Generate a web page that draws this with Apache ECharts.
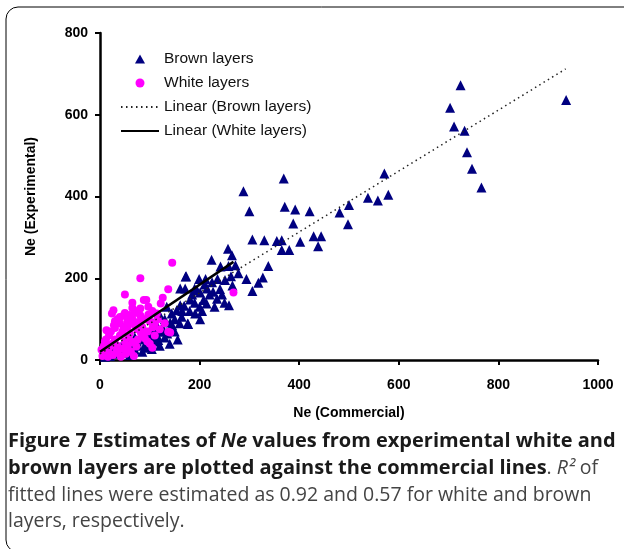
<!DOCTYPE html>
<html>
<head>
<meta charset="utf-8">
<script src="https://cdn.jsdelivr.net/npm/echarts@6/dist/echarts.min.js"></script>
<style>
  html, body { margin: 0; padding: 0; background: #fff; }
  #chart { width: 624px; height: 549px; }
</style>
</head>
<body>
<div id="chart"></div>
<script>
// Ne (Commercial), Ne (Experimental) pairs
var brownLayers = [
    [936, 636], [724, 672], [703, 617], [711, 571], [732, 561], [737, 508], [747, 468], [766, 422],
    [571, 456], [579, 404], [558, 390], [538, 397], [500, 379], [481, 361], [498, 332],
    [421, 364], [429, 303], [444, 303], [438, 278], [402, 289],
    [369, 444], [288, 413], [300, 364], [371, 375], [392, 368], [388, 334],
    [306, 295], [330, 293], [355, 291], [365, 293], [365, 269], [380, 269],
    [257, 272], [265, 256], [224, 245], [338, 230], [242, 229], [258, 230], [272, 232],
    [278, 212], [263, 205], [251, 196], [236, 198], [294, 198], [327, 202], [318, 189], [306, 169],
    [266, 182], [241, 174], [227, 167], [212, 198], [199, 198], [172, 204],
    [259, 134], [230, 130], [214, 138], [208, 147], [201, 165], [191, 114], [201, 100], [177, 88],
    [181, 148], [169, 133], [161, 175], [164, 106],
    [156, 50], [176, 89], [141, 92], [104, 27], [124, 69], [117, 49], [90, 37], [110, 94], [120, 110],
    [144, 114], [154, 122], [161, 134], [134, 130], [171, 175], [173, 205],
    [64, 24], [47, 33], [74, 45], [97, 61], [107, 73], [80, 53],
    [20, 10], [30, 15], [40, 20], [50, 18], [55, 30], [60, 12], [70, 25], [75, 35], [85, 20], [90, 50],
    [95, 30], [100, 40], [105, 55], [110, 45], [115, 60], [120, 35], [125, 80], [130, 55], [135, 65],
    [140, 75], [145, 85], [150, 70], [130, 100], [115, 80], [100, 70], [85, 65], [70, 55], [60, 45],
    [45, 40], [35, 30], [25, 22], [15, 12], [10, 8], [150, 100], [160, 90], [140, 40], [165, 120],
    [180, 120], [185, 160], [190, 140], [195, 170], [205, 120], [215, 175], [220, 160], [225, 190],
    [235, 150], [245, 160], [250, 140], [210, 185], [200, 130], [190, 175]
];
var whiteLayers = [
    [145, 238], [81, 200], [137, 173], [50, 160], [88, 147], [93, 147], [65, 140], [65, 127],
    [126, 152], [97, 130], [122, 138], [81, 126], [27, 122], [24, 114], [47, 108], [81, 109],
    [97, 111], [114, 114], [64, 92], [77, 93], [40, 90], [13, 73], [30, 78], [47, 82], [137, 69],
    [141, 67], [268, 165], [82, 67], [90, 53], [57, 56], [73, 33], [57, 24], [20, 33], [10, 45],
    [7, 17], [34, 24],
    [5, 10], [10, 20], [15, 30], [20, 15], [25, 40], [30, 50], [35, 35], [40, 60], [45, 70], [50, 45],
    [55, 80], [60, 65], [65, 100], [70, 85], [75, 75], [80, 90], [85, 80], [90, 100], [100, 95],
    [105, 120], [110, 90], [30, 95], [35, 100], [40, 105], [50, 115], [55, 95], [60, 110], [70, 115],
    [75, 120], [18, 60], [22, 70], [28, 85], [12, 50], [8, 35], [3, 25], [16, 8], [26, 12], [36, 18],
    [46, 28], [56, 36], [66, 44], [76, 50], [86, 58], [96, 70], [106, 80], [116, 100], [42, 8],
    [52, 15], [62, 20], [68, 10], [100, 40], [110, 60], [120, 75], [130, 90], [95, 45], [105, 30]
];
// fitted trend lines (end points)
var linearBrown = [[0, 15], [935, 712]];
var linearWhite = [[0, 20], [268, 240]];

var xTicks = { min: 0, max: 1000, interval: 200 };
var yTicks = { min: 0, max: 800, interval: 200 };

var chart = echarts.init(document.getElementById('chart'));

var axisFont = { fontFamily: 'Liberation Sans', fontWeight: 'bold', fontSize: 14, color: '#000' };
var capBold = { fontFamily: 'Open Sans', fontWeight: 'bold', fontSize: 20, fill: '#1a1a1a' };
var capText = { fontFamily: 'Open Sans', fontSize: 19.5, fill: '#444' };

var option = {
    animation: false,
    grid: { left: 100, right: 26, top: 33, bottom: 189 },
    legend: {
        orient: 'vertical',
        left: 120,
        top: 51,
        padding: 0,
        itemWidth: 38,
        itemHeight: 9,
        itemGap: 8,
        symbolKeepAspect: true,
        textStyle: { fontFamily: 'Liberation Sans', fontSize: 15.5, color: '#111' },
        data: [
            { name: 'Brown layers', icon: 'path://M5,0L10,9L0,9Z' },
            'White layers',
            'Linear (Brown layers)',
            'Linear (White layers)'
        ]
    },
    xAxis: {
        type: 'value',
        min: xTicks.min, max: xTicks.max, interval: xTicks.interval,
        name: 'Ne (Commercial)',
        nameLocation: 'middle',
        nameGap: 46,
        nameTextStyle: axisFont,
        axisLine: { lineStyle: { color: '#000', width: 2.5 } },
        axisTick: { length: 5, lineStyle: { color: '#000', width: 2 } },
        axisLabel: Object.assign({ margin: 18, formatter: function (v) { return String(v); } }, axisFont),
        splitLine: { show: false }
    },
    yAxis: {
        type: 'value',
        min: yTicks.min, max: yTicks.max, interval: yTicks.interval,
        name: 'Ne (Experimental)',
        nameLocation: 'middle',
        nameGap: 62,
        nameTextStyle: axisFont,
        axisLine: { show: true, lineStyle: { color: '#000', width: 2.5 } },
        axisTick: { show: true, length: 5, lineStyle: { color: '#000', width: 2 } },
        axisLabel: Object.assign({ margin: 12 }, axisFont),
        splitLine: { show: false }
    },
    series: [
        {
            name: 'Brown layers',
            type: 'scatter',
            symbol: 'triangle',
            symbolSize: 10,
            itemStyle: { color: '#000080', opacity: 1 },
            data: brownLayers
        },
        {
            name: 'White layers',
            type: 'scatter',
            symbol: 'circle',
            symbolSize: 8,
            itemStyle: { color: '#ff00ff', opacity: 1 },
            data: whiteLayers
        },
        {
            name: 'Linear (Brown layers)',
            type: 'line',
            symbol: 'none',
            lineStyle: { color: '#222', width: 1.5, type: [1.5, 3.5] },
            itemStyle: { color: 'rgba(0,0,0,0)', borderWidth: 0 },
            data: linearBrown,
            z: 5
        },
        {
            name: 'Linear (White layers)',
            type: 'line',
            symbol: 'none',
            lineStyle: { color: '#000', width: 2.5 },
            itemStyle: { color: 'rgba(0,0,0,0)', borderWidth: 0 },
            data: linearWhite,
            z: 5
        }
    ],
    graphic: [
        {
            type: 'rect',
            shape: { x: 6, y: 7, width: 700, height: 545, r: 12 },
            style: { fill: 'none', stroke: '#000', lineWidth: 1 }
        },
        {
            type: 'text', left: 8, top: 431,
            style: {
                text: '{b|Figure 7 Estimates of }{bi|Ne}{b| values from experimental white and}',
                rich: { b: capBold, bi: Object.assign({ fontStyle: 'italic' }, capBold) }
            }
        },
        {
            type: 'text', left: 8, top: 458,
            style: {
                text: '{b|brown layers are plotted against the commercial lines}{r|. }{i|R²}{r| of}',
                rich: { b: capBold, r: capText, i: Object.assign({ fontStyle: 'italic' }, capText) }
            }
        },
        {
            type: 'text', left: 8, top: 485,
            style: { text: '{r|fitted lines were estimated as 0.92 and 0.57 for white and brown}', rich: { r: capText } }
        },
        {
            type: 'text', left: 8, top: 511,
            style: { text: '{r|layers, respectively.}', rich: { r: capText } }
        }
    ]
};

chart.setOption(option);
</script>
</body>
</html>
